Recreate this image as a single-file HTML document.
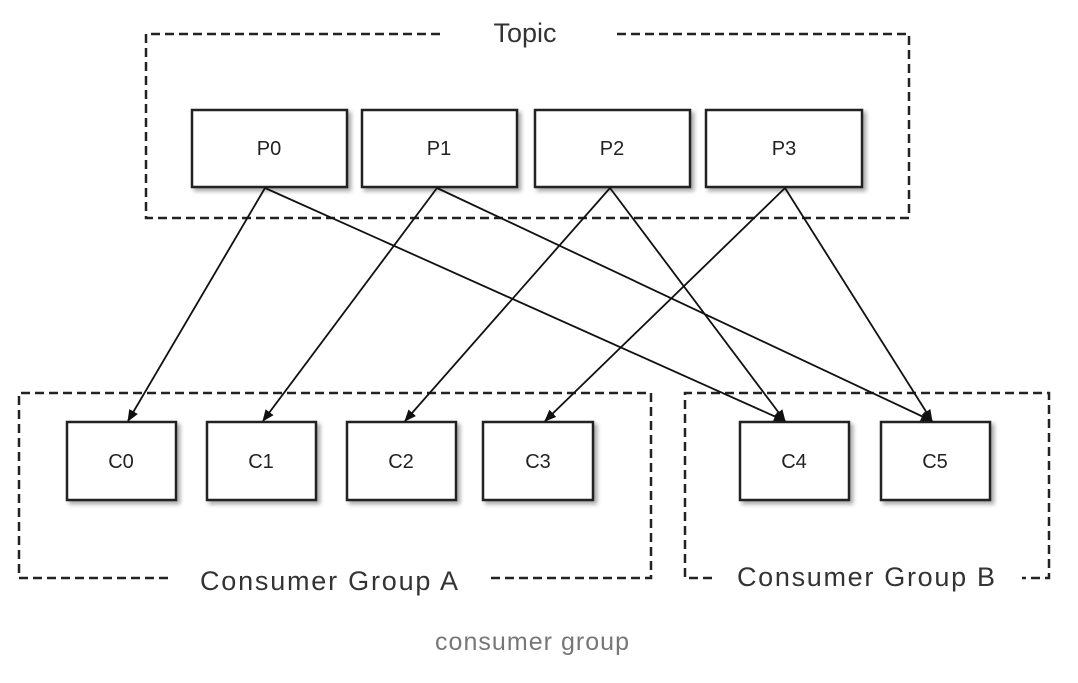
<!DOCTYPE html>
<html><head><style>
body{margin:0;background:#fff;width:1078px;height:678px;overflow:hidden}
text{font-family:"Liberation Sans","DejaVu Sans",sans-serif}
</style></head><body>
<svg width="1078" height="678" viewBox="0 0 1078 678" xmlns="http://www.w3.org/2000/svg">
<defs>
<marker id="a" markerWidth="12" markerHeight="12" refX="11" refY="6" orient="auto" markerUnits="userSpaceOnUse">
<path d="M0,1 L12,6 L0,11 Z" fill="#111"/></marker>
<filter id="s" x="-10%" y="-10%" width="130%" height="130%"><feDropShadow dx="3" dy="3" stdDeviation="2" flood-color="#000" flood-opacity="0.35"/></filter>
</defs>
<g fill="none" stroke="#222" stroke-width="2.5" stroke-dasharray="9,5">
<path d="M440,34 H146 V218 H909 V34 H612"/>
<path d="M168,578 H19 V393 H651 V578 H490"/>
<path d="M712,578 H685 V393 H1049 V578 H1022"/>
</g>
<g fill="#fff" stroke="#222" stroke-width="2.5" filter="url(#s)">
<rect x="192" y="110" width="155" height="77"/>
<rect x="362" y="110" width="155" height="77"/>
<rect x="535" y="110" width="155" height="77"/>
<rect x="706" y="110" width="156" height="77"/>
<rect x="67" y="422" width="109" height="78"/>
<rect x="207" y="422" width="109" height="78"/>
<rect x="347" y="422" width="109" height="78"/>
<rect x="483" y="422" width="110" height="78"/>
<rect x="740" y="422" width="109" height="78"/>
<rect x="881" y="422" width="109" height="78"/>
</g>
<g stroke="#111" stroke-width="1.8" marker-end="url(#a)">
<line x1="265" y1="188" x2="128" y2="421"/>
<line x1="265" y1="188" x2="785" y2="421"/>
<line x1="437" y1="188" x2="263" y2="421"/>
<line x1="437" y1="188" x2="932" y2="421"/>
<line x1="610" y1="188" x2="405" y2="421"/>
<line x1="610" y1="188" x2="785" y2="421"/>
<line x1="785" y1="188" x2="545" y2="421"/>
<line x1="785" y1="188" x2="932" y2="421"/>
</g>
<g font-size="20" fill="#222" text-anchor="middle">
<text x="269" y="155">P0</text><text x="439" y="155">P1</text><text x="612" y="155">P2</text><text x="784" y="155">P3</text>
<text x="121" y="468">C0</text><text x="261" y="468">C1</text><text x="401" y="468">C2</text><text x="538" y="468">C3</text>
<text x="794" y="468">C4</text><text x="935" y="468">C5</text>
</g>
<g font-size="27" fill="#333" text-anchor="middle">
<text x="525" y="42">Topic</text>
<text x="329" y="590" textLength="258">Consumer Group  A</text>
<text x="866" y="586" textLength="258">Consumer Group  B</text>
</g>
<text x="532" y="650" font-size="25" fill="#777" text-anchor="middle" textLength="194">consumer group</text>
</svg>
</body></html>
